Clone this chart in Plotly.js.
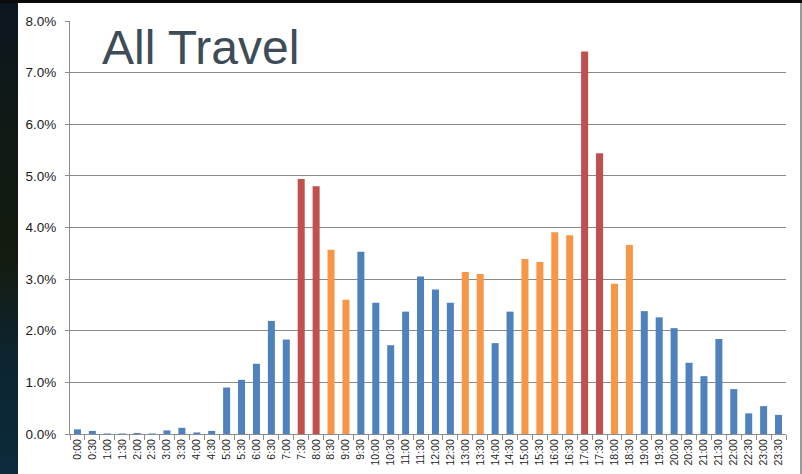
<!DOCTYPE html>
<html>
<head>
<meta charset="utf-8">
<script src="https://cdn.plot.ly/plotly-3.0.1.min.js"></script>
<style>
html,body{margin:0;padding:0;width:802px;height:474px;overflow:hidden;}
body{background:linear-gradient(to bottom,#0c1620 0%,#111a14 30%,#141c10 55%,#0d2430 75%,#0b2b3c 100%);}
#topbar{position:absolute;left:0;top:0;width:802px;height:3px;background:#0a0a0a;}
#chart{position:absolute;left:18px;top:3px;width:782px;height:471px;background:#fff;}
#rightline{position:absolute;left:800px;top:3px;width:2px;height:471px;background:#9a9a9a;}
</style>
</head>
<body>
<div id="topbar"></div>
<div id="chart"></div>
<div id="rightline"></div>
<script>
const times = ["0:00","0:30","1:00","1:30","2:00","2:30","3:00","3:30","4:00","4:30",
"5:00","5:30","6:00","6:30","7:00","7:30","8:00","8:30","9:00","9:30",
"10:00","10:30","11:00","11:30","12:00","12:30","13:00","13:30","14:00","14:30",
"15:00","15:30","16:00","16:30","17:00","17:30","18:00","18:30","19:00","19:30",
"20:00","20:30","21:00","21:30","22:00","22:30","23:00","23:30"];
const share = [0.09,0.06,0.01,0.01,0.02,0.01,0.07,0.12,0.03,0.06,
0.90,1.05,1.36,2.19,1.83,4.94,4.80,3.57,2.60,3.53,
2.54,1.72,2.37,3.05,2.80,2.54,3.14,3.10,1.76,2.37,
3.39,3.33,3.91,3.85,7.41,5.44,2.91,3.66,2.38,2.26,
2.05,1.38,1.12,1.84,0.87,0.40,0.54,0.37];
const peakTimes = ["7:30","8:00","17:00","17:30"];
const shoulderTimes = ["8:30","9:00","13:00","13:30","15:00","15:30","16:00","16:30","18:00","18:30"];
const colors = {peak:"#C0504D", shoulder:"#F79646", off:"#4F81BD"};

const barColors = times.map(t => peakTimes.includes(t) ? colors.peak : (shoulderTimes.includes(t) ? colors.shoulder : colors.off));

const data = [{
  type:"bar",
  x: times,
  y: share.map(v => v/100),
  marker:{color:barColors},
  hoverinfo:"x+y"
}];

const layout = {
  width:782, height:471,
  margin:{l:52, r:14, t:18, b:40, pad:0},
  paper_bgcolor:"#ffffff",
  plot_bgcolor:"#ffffff",
  bargap:0.53,
  showlegend:false,
  xaxis:{
    type:"category",
    tickson:"boundaries",
    ticks:"outside", ticklen:5, tickcolor:"#8c8c8c", tickwidth:1,
    showline:true, linecolor:"#8c8c8c", linewidth:1,
    tickangle:-90,
    tickfont:{family:"Liberation Sans, Arial, sans-serif", size:10.5, color:"#1a1a1a"},
    showgrid:false,
    automargin:false
  },
  yaxis:{
    range:[0,0.08],
    dtick:0.01,
    tickformat:".1%",
    ticks:"outside", ticklen:4, tickcolor:"#8c8c8c",
    ticklabelstandoff:6,
    showline:true, linecolor:"#8c8c8c", linewidth:1,
    showgrid:true, gridcolor:"#8a8a8a", gridwidth:1,
    zeroline:false,
    tickfont:{family:"Liberation Sans, Arial, sans-serif", size:13.5, color:"#1a1a1a"},
    automargin:false
  },
  annotations:[{
    text:"All Travel",
    xref:"paper", yref:"paper",
    x:0.042, y:0.936,
    xanchor:"left", yanchor:"middle",
    showarrow:false,
    font:{family:"Liberation Sans, Arial, sans-serif", size:48, color:"#3d4c57"}
  }]
};

Plotly.newPlot("chart", data, layout, {displayModeBar:false, staticPlot:true});
</script>
</body>
</html>
